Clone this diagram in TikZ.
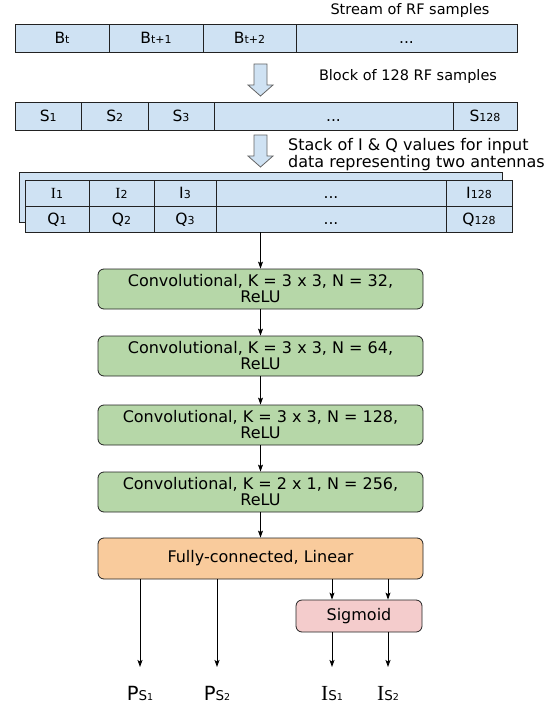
\documentclass[tikz,border=0pt]{standalone}
\usepackage{fontspec}
\setmainfont{DejaVu Sans}
\newfontfamily\serifI{Liberation Serif}
\usetikzlibrary{arrows.meta,calc}
\definecolor{cellblue}{HTML}{CFE2F3}
\definecolor{convgreen}{HTML}{B6D7A8}
\definecolor{fcorange}{HTML}{F9CB9C}
\definecolor{sigpink}{HTML}{F4CCCC}
\definecolor{edge}{HTML}{222222}
\newcommand\sbs[1]{{\fontsize{11}{11}\selectfont #1}}
\newcommand\osb[1]{{\fontsize{13.5}{13.5}\selectfont #1}}
\newcommand\osbb[1]{{\fontsize{9.5}{9.5}\selectfont #1}}
\begin{document}
\begin{tikzpicture}[x=1pt,y=-1pt,
  cell/.style={draw=edge, fill=cellblue, line width=0.8pt, inner sep=0pt,
    font=\fontsize{15.5}{15.5}\selectfont, anchor=center, text height=11pt, text depth=0pt},
  layer/.style={draw=edge, rounded corners=6pt, line width=0.8pt, inner sep=0pt,
    minimum width=325pt, minimum height=40pt, align=center,
    font=\fontsize{16}{16}\selectfont},
  caption/.style={inner sep=0pt, font=\fontsize{14.5}{17}\selectfont},
  blockarrow/.style={draw=edge!70, fill=cellblue, line width=0.8pt},
  conn/.style={draw=black, line width=0.9pt, -{Stealth[length=7pt,width=5pt,inset=1.5pt]}},
  outlabel/.style={inner sep=0pt, anchor=base}]
\useasboundingbox (0,0) rectangle (553,708);

% captions
\node[caption] (cap1) at (410,11) {Stream of RF samples};
\node[caption] (cap2) at (408,77) {Block of 128 RF samples};
\node[caption, anchor=west, align=left, font=\fontsize{16}{17}\selectfont] (cap3) at (288,155) {Stack of I \& Q values for input\\data representing two antennas};

% row 1
\node[cell, minimum width=94pt, minimum height=28pt] (b1) at (62,38) {B\sbs{t}};
\node[cell, minimum width=94pt, minimum height=28pt] (b2) at (156,38) {B\sbs{t+1}};
\node[cell, minimum width=93pt, minimum height=28pt] (b3) at (249.5,38) {B\sbs{t+2}};
\node[cell, minimum width=221pt, minimum height=28pt] (b4) at (406.5,38) {...};

% block arrow 1
\path[blockarrow] (254,64) -- (267,64) -- (267,85) -- (273,85) -- (260.5,96) -- (248,85) -- (254,85) -- cycle;

% row 2
\node[cell, minimum width=66.5pt, minimum height=28pt] (s1) at (48.25,116) {S\sbs{1}};
\node[cell, minimum width=66.5pt, minimum height=28pt] (s2) at (114.75,116) {S\sbs{2}};
\node[cell, minimum width=66pt, minimum height=28pt] (s3) at (181,116) {S\sbs{3}};
\node[cell, minimum width=239pt, minimum height=28pt] (s4) at (333.5,116) {...};
\node[cell, minimum width=64pt, minimum height=28pt] (s5) at (485,116) {S\sbs{128}};

% block arrow 2
\path[blockarrow] (254,135) -- (267,135) -- (267,156) -- (273,156) -- (260.5,167) -- (248,156) -- (254,156) -- cycle;

% row 3 (stack)
\node[cell, minimum width=483pt, minimum height=50pt] (back) at (260.5,197) {};
\node[cell, minimum width=64pt, minimum height=26pt] (i1) at (57,193) {{\serifI I}\sbs{1}};
\node[cell, minimum width=65pt, minimum height=26pt] (i2) at (121.5,193) {{\serifI I}\sbs{2}};
\node[cell, minimum width=62pt, minimum height=26pt] (i3) at (185,193) {I\sbs{3}};
\node[cell, minimum width=230pt, minimum height=26pt] (i4) at (331,193) {...};
\node[cell, minimum width=66pt, minimum height=26pt] (i5) at (479,193) {I\sbs{128}};
\node[cell, minimum width=64pt, minimum height=26pt] (q1) at (57,219) {Q\sbs{1}};
\node[cell, minimum width=65pt, minimum height=26pt] (q2) at (121.5,219) {Q\sbs{2}};
\node[cell, minimum width=62pt, minimum height=26pt] (q3) at (185,219) {Q\sbs{3}};
\node[cell, minimum width=230pt, minimum height=26pt] (q4) at (331,219) {...};
\node[cell, minimum width=66pt, minimum height=26pt] (q5) at (479,219) {Q\sbs{128}};

% layers
\node[layer, fill=convgreen] (c1) at (260.5,289) {Convolutional, K = 3 x 3, N = 32,\\ReLU};
\node[layer, fill=convgreen] (c2) at (260.5,356) {Convolutional, K = 3 x 3, N = 64,\\ReLU};
\node[layer, fill=convgreen] (c3) at (260.5,425) {Convolutional, K = 3 x 3, N = 128,\\ReLU};
\node[layer, fill=convgreen] (c4) at (260.5,492) {Convolutional, K = 2 x 1, N = 256,\\ReLU};
\node[layer, fill=fcorange, minimum height=41pt] (fc) at (260.5,558.5) {Fully-connected, Linear};
\node[layer, fill=sigpink, minimum width=126pt, minimum height=32pt] (sig) at (359,616) {Sigmoid};

% output labels
\node[outlabel] (ps1) at (140,700) {{\fontsize{19.5}{19.5}\selectfont P}\osb{S}\osbb{1}};
\node[outlabel] (ps2) at (217,700) {{\fontsize{19.5}{19.5}\selectfont P}\osb{S}\osbb{2}};
\node[outlabel] (is1) at (332,700) {{\fontsize{21.5}{21.5}\selectfont\serifI I}\osb{S}\osbb{1}};
\node[outlabel] (is2) at (388,700) {{\fontsize{21.5}{21.5}\selectfont\serifI I}\osb{S}\osbb{2}};
\coordinate (e1) at (140,667);
\coordinate (e2) at (217,667);
\coordinate (e3) at (332,667);
\coordinate (e4) at (388,667);

% connectors
\draw[conn] (c1.north |- q4.south) -- (c1.north);
\draw[conn] (c1.south) -- (c2.north);
\draw[conn] (c2.south) -- (c3.north);
\draw[conn] (c3.south) -- (c4.north);
\draw[conn] (c4.south) -- (fc.north);
\draw[conn] (fc.south -| e1) -- (e1);
\draw[conn] (fc.south -| e2) -- (e2);
\draw[conn] (fc.south -| e3) -- (sig.north -| e3);
\draw[conn] (fc.south -| e4) -- (sig.north -| e4);
\draw[conn] (sig.south -| e3) -- (e3);
\draw[conn] (sig.south -| e4) -- (e4);
\end{tikzpicture}
\end{document}
